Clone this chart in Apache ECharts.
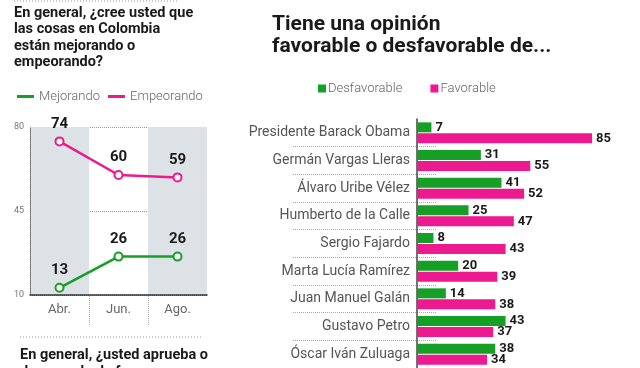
<!DOCTYPE html>
<html><head><meta charset="utf-8">
<script src="https://cdn.jsdelivr.net/npm/echarts@6/dist/echarts.min.js"></script>
<style>html,body{margin:0;padding:0;background:#fff}#c{width:640px;height:368px}</style>
</head><body><div id="c"></div>
<script>
// Left chart data
const months = ['Abr.', 'Jun.', 'Ago.'];
const mejorando = [13, 26, 26];
const empeorando = [74, 60, 59];
const yTicks = [10, 45, 80];
// Right chart data
const personas = ['Presidente Barack Obama', 'Germán Vargas Lleras', 'Álvaro Uribe Vélez', 'Humberto de la Calle',
  'Sergio Fajardo', 'Marta Lucía Ramírez', 'Juan Manuel Galán', 'Gustavo Petro', 'Óscar Iván Zuluaga'];
const desfavorable = [7, 31, 41, 25, 8, 20, 14, 43, 38];
const favorable = [85, 55, 52, 47, 43, 39, 38, 37, 34];

const GREEN = '#15a025', PINK = '#ec1a8e';
const F = 'Roboto, "Noto Sans", sans-serif';
const chart = echarts.init(document.getElementById('c'));
const lblStyle = {show: true, fontFamily: F, fontWeight: 'bold', fontSize: 15, color: '#1a1a1a'};

chart.setOption({
  animation: false,
  textStyle: {fontFamily: F},
  title: [
    {text: 'En general, ¿cree usted que\nlas cosas en Colombia\nestán mejorando o\nempeorando?', left: 14, top: 5, padding: 0,
      textStyle: {fontFamily: F, fontWeight: 'bold', fontSize: 14.5, lineHeight: 16.5, color: '#1a1a1a'}},
    {text: 'Tiene una opinión\nfavorable o desfavorable de...', left: 272, top: 14, padding: 0,
      textStyle: {fontFamily: F, fontWeight: 'bold', fontSize: 21, lineHeight: 22, color: '#1a1a1a'}},
    {text: 'En general, ¿usted aprueba o\ndesaprueba la forma en que', left: 20, top: 347, padding: 0,
      textStyle: {fontFamily: F, fontWeight: 'bold', fontSize: 14.5, lineHeight: 17, color: '#1a1a1a'}}
  ],
  legend: [
    {data: ['Mejorando', 'Empeorando'], left: 17, top: 90, padding: 0, icon: 'rect', itemWidth: 17, itemHeight: 3, itemGap: 8,
      textStyle: {fontFamily: F, fontSize: 13, color: '#666', fontWeight: 300}},
    {data: ['Desfavorable', 'Favorable'], left: 318, top: 82, padding: 0, icon: 'rect', itemWidth: 8, itemHeight: 8, itemGap: 28,
      textStyle: {fontFamily: F, fontSize: 13, color: '#666', fontWeight: 300, padding: [0, 0, 0, -3]}}
  ],
  graphic: [
    {type: 'line', shape: {x1: 14, y1: 1, x2: 178, y2: 1}, style: {stroke: '#999', lineDash: [1, 2], lineWidth: 1}},
    {type: 'line', shape: {x1: 20, y1: 337, x2: 201, y2: 337}, style: {stroke: '#999', lineDash: [1, 2], lineWidth: 1}}
  ],
  grid: [
    {left: 30, top: 127, width: 177, height: 168},
    {left: 417, top: 119, width: 206, height: 253},
    {left: 293, top: 119, width: 144, height: 253},
    {left: 30, top: 296, width: 177, height: 30}
  ],
  xAxis: [
    {type: 'category', gridIndex: 0, data: months, boundaryGap: true,
      axisLine: {lineStyle: {color: '#333', width: 1.5}},
      axisTick: {show: false},
      axisLabel: {fontFamily: F, fontSize: 13, color: '#666', margin: 8},
      splitArea: {show: true, areaStyle: {color: ['#dde2e6', 'rgba(255,255,255,0)']}}},
    {type: 'value', gridIndex: 1, min: 0, max: 100, show: false},
    {type: 'value', gridIndex: 2, show: false},
    {type: 'category', gridIndex: 3, data: months, boundaryGap: true,
      axisLine: {show: false}, axisTick: {show: false}, axisLabel: {show: false},
      splitLine: {show: true, showMinLine: false, showMaxLine: false, lineStyle: {color: '#aaa', type: 'dotted'}}}
  ],
  yAxis: [
    {type: 'value', gridIndex: 0, min: yTicks[0], max: yTicks[2], interval: yTicks[1] - yTicks[0],
      axisLine: {show: true, lineStyle: {color: '#666', width: 1, type: 'dotted'}}, axisTick: {show: false},
      axisLabel: {fontFamily: F, fontSize: 9, color: '#777', margin: 6},
      splitLine: {show: true, lineStyle: {color: '#999', type: 'dotted'}}},
    {type: 'category', gridIndex: 1, data: personas, inverse: true,
      axisLine: {show: true, lineStyle: {color: '#444', width: 1.5}}, axisTick: {show: false},
      axisLabel: {fontFamily: F, fontSize: 14, color: '#555', margin: 7}},
    {type: 'category', gridIndex: 2, data: personas, inverse: true,
      axisLine: {show: false}, axisTick: {show: false}, axisLabel: {show: false},
      splitLine: {show: true, showMinLine: false, lineStyle: {color: '#aaa', type: 'dotted'}}},
    {type: 'value', gridIndex: 3, show: false}
  ],
  series: [
    {name: 'Mejorando', type: 'line', xAxisIndex: 0, yAxisIndex: 0, data: mejorando, color: GREEN,
      symbol: 'emptyCircle', symbolSize: 8, lineStyle: {width: 2.5}, itemStyle: {borderWidth: 2},
      label: Object.assign({position: 'top', distance: 5}, lblStyle)},
    {name: 'Empeorando', type: 'line', xAxisIndex: 0, yAxisIndex: 0, data: empeorando, color: PINK,
      symbol: 'emptyCircle', symbolSize: 8, lineStyle: {width: 2.5}, itemStyle: {borderWidth: 2},
      label: Object.assign({position: 'top', distance: 5}, lblStyle)},
    {name: 'Desfavorable', type: 'bar', xAxisIndex: 1, yAxisIndex: 1, data: desfavorable, color: GREEN,
      barWidth: 10, barGap: '10%',
      label: Object.assign({position: 'right', distance: 4}, lblStyle, {fontSize: 13})},
    {name: 'Favorable', type: 'bar', xAxisIndex: 1, yAxisIndex: 1, data: favorable, color: PINK,
      barWidth: 10, barGap: '10%',
      label: Object.assign({position: 'right', distance: 4}, lblStyle, {fontSize: 13})}
  ]
});
</script></body></html>
